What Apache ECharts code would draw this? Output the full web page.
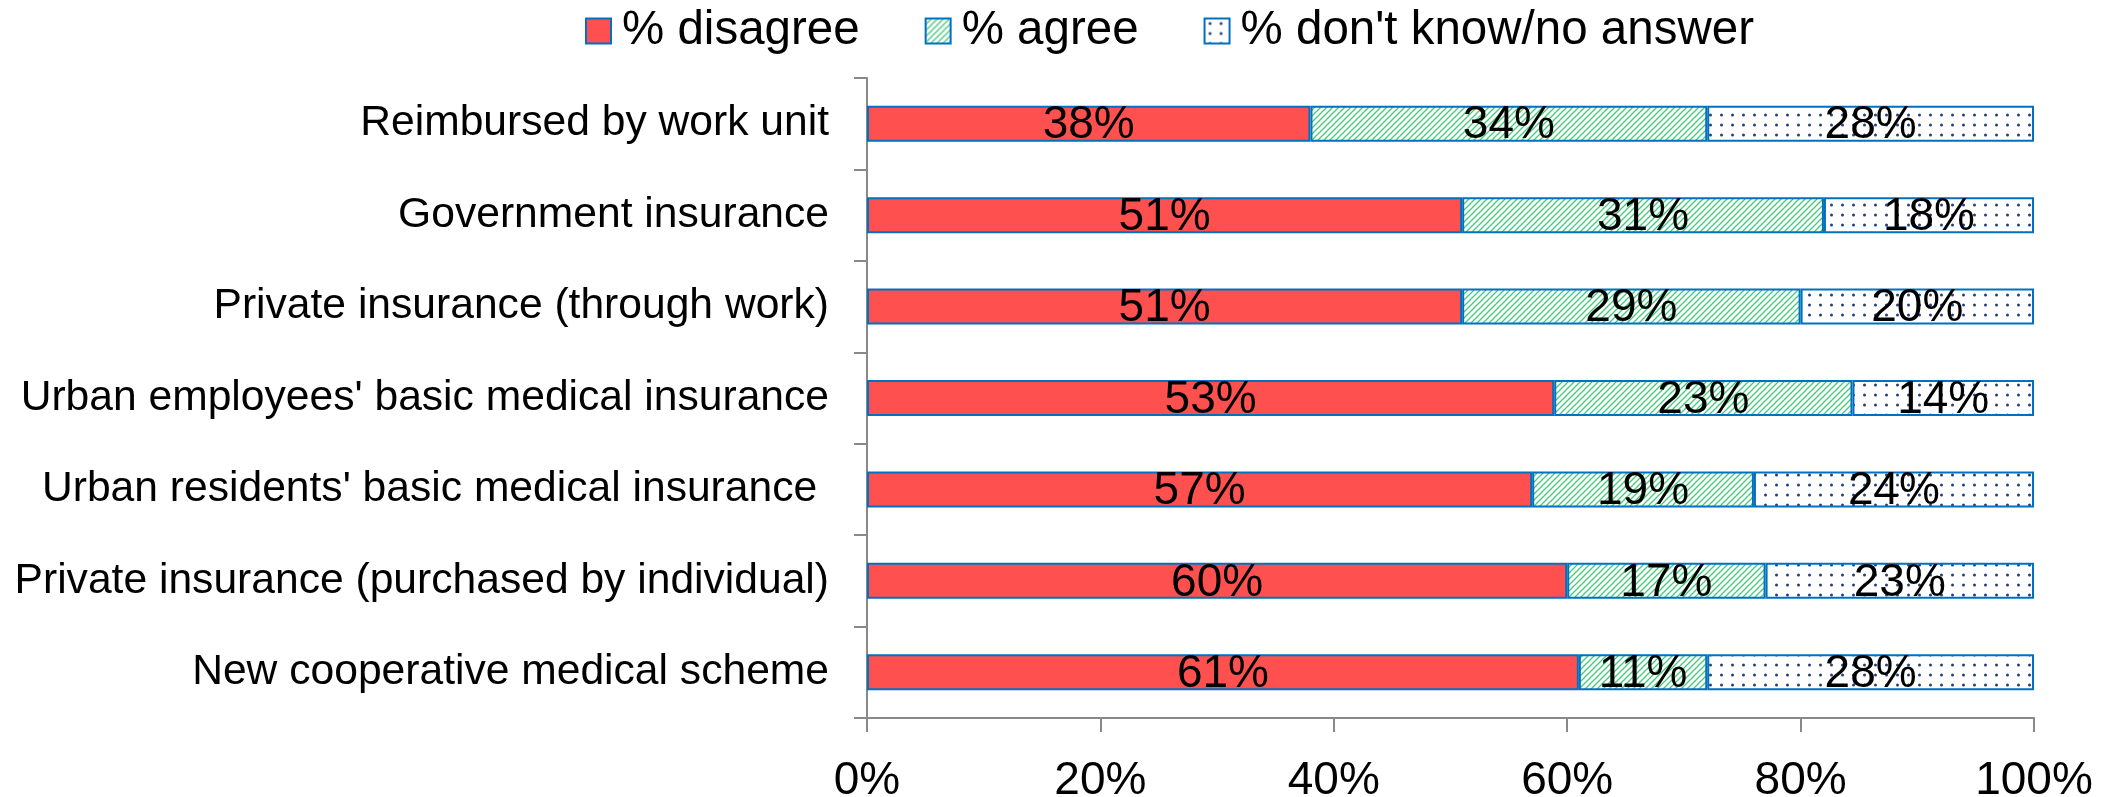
<!DOCTYPE html>
<html>
<head>
<meta charset="utf-8">
<script src="https://cdn.jsdelivr.net/npm/echarts@6/dist/echarts.min.js"></script>
<style>
html,body{margin:0;padding:0;background:#fff;}
#chart{width:2119px;height:797px;}
</style>
</head>
<body>
<div id="chart"></div>
<script>
const categories = [
  "Reimbursed by work unit",
  "Government insurance",
  "Private insurance (through work)",
  "Urban employees' basic medical insurance",
  "Urban residents' basic medical insurance ",
  "Private insurance (purchased by individual)",
  "New cooperative medical scheme"
];
const disagree = [38, 51, 51, 53, 57, 60, 61];
const agree = [34, 31, 29, 23, 19, 17, 11];
const dontKnow = [28, 18, 20, 14, 24, 23, 28];
const seriesNames = ["% disagree", "% agree", "% don't know/no answer"];
const xTicks = [0, 20, 40, 60, 80, 100];

function stripeCanvas() {
  const c = document.createElement('canvas');
  c.width = 6; c.height = 6;
  const g = c.getContext('2d');
  g.fillStyle = '#ffffff'; g.fillRect(0, 0, 6, 6);
  g.strokeStyle = '#45C97A'; g.lineWidth = 1.3;
  g.beginPath();
  g.moveTo(-1, 7); g.lineTo(7, -1);
  g.moveTo(-4, 4); g.lineTo(4, -4);
  g.moveTo(2, 10); g.lineTo(10, 2);
  g.stroke();
  return c;
}
function dotCanvas() {
  const c = document.createElement('canvas');
  c.width = 11; c.height = 10;
  const g = c.getContext('2d');
  g.fillStyle = '#ffffff'; g.fillRect(0, 0, 11, 10);
  g.fillStyle = '#243F80';
  g.beginPath(); g.arc(5.5, 5, 1.5, 0, Math.PI * 2); g.fill();
  return c;
}

const raw = [disagree, agree, dontKnow];
const totals = categories.map((_, i) => disagree[i] + agree[i] + dontKnow[i]);
const fills = ['#FF5050', { image: stripeCanvas(), repeat: 'repeat' }, { image: dotCanvas(), repeat: 'repeat' }];
const FONT = "'Liberation Sans', Arial, sans-serif";

const series = raw.map((arr, s) => ({
  name: seriesNames[s],
  type: 'bar',
  stack: 'total',
  barWidth: 36,
  data: arr.map((v, i) => v / totals[i] * 100),
  itemStyle: { color: fills[s], borderColor: '#0070C0', borderWidth: 2 },
  label: {
    show: true,
    position: 'inside',
    offset: [0, 2],
    fontFamily: FONT,
    fontSize: 46,
    color: '#000',
    formatter: p => arr[p.dataIndex] + '%'
  },
  emphasis: { disabled: true },
  animation: false
}));

const chart = echarts.init(document.getElementById('chart'), null, { renderer: 'canvas' });
chart.setOption({
  animation: false,
  backgroundColor: '#ffffff',
  textStyle: { fontFamily: FONT },
  legend: {
    left: 585,
    top: 7,
    padding: 0,
    itemWidth: 25,
    itemHeight: 25,
    itemGap: 65,
    icon: 'rect',
    textStyle: { fontFamily: FONT, fontSize: 47.5, color: '#000', lineHeight: 46, padding: [0, 0, 0, 6] },
    data: seriesNames
  },
  grid: { left: 867, right: 85, top: 78, bottom: 79, containLabel: false, outerBoundsMode: 'none' },
  xAxis: {
    type: 'value',
    min: xTicks[0],
    max: xTicks[xTicks.length - 1],
    interval: xTicks[1] - xTicks[0],
    axisLine: { show: true, lineStyle: { color: '#898989', width: 2 } },
    axisTick: { show: true, length: 14, lineStyle: { color: '#898989', width: 2 } },
    splitLine: { show: false },
    axisLabel: { fontFamily: FONT, fontSize: 46, color: '#000', margin: 40, formatter: '{value}%' }
  },
  yAxis: {
    type: 'category',
    inverse: true,
    data: categories,
    axisLine: { show: true, lineStyle: { color: '#898989', width: 2 } },
    axisTick: { show: true, length: 13, lineStyle: { color: '#898989', width: 2 } },
    axisLabel: { fontFamily: FONT, fontSize: 42.6, color: '#000', margin: 38 }
  },
  series: series
});
</script>
</body>
</html>
